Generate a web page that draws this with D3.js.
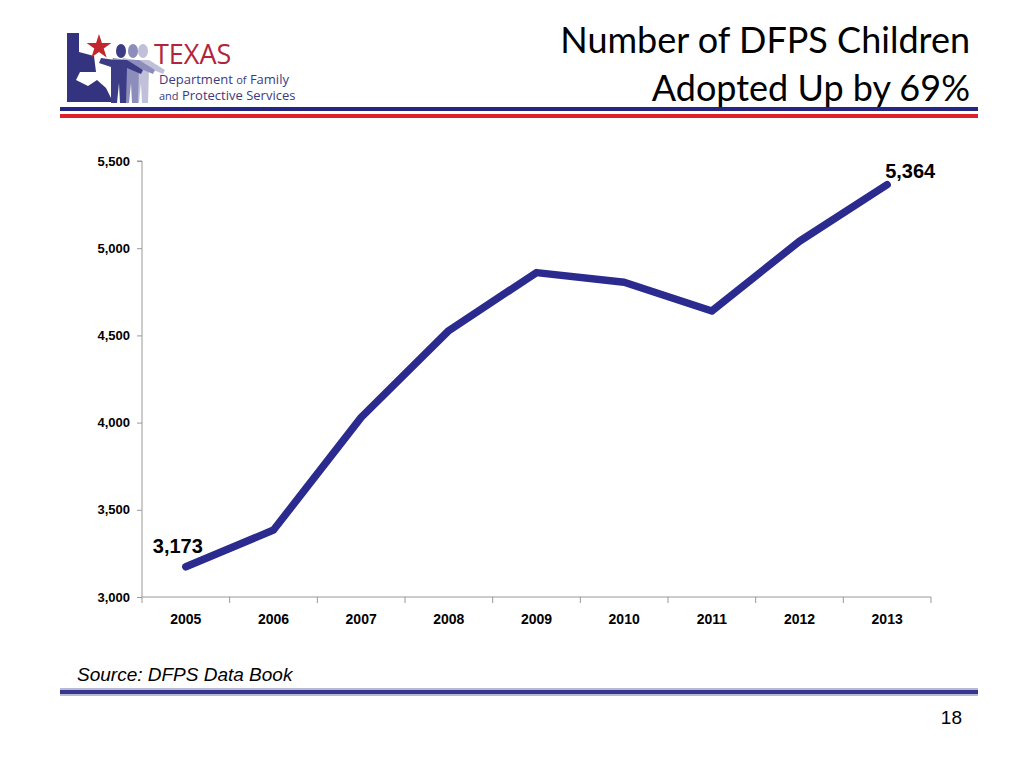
<!DOCTYPE html>
<html>
<head>
<meta charset="utf-8">
<script src="https://cdn.jsdelivr.net/npm/d3@7"></script>
<style>
  html, body { margin: 0; padding: 0; background: #fff; }
  svg { display: block; }
</style>
</head>
<body>
<svg id="chart" width="1024" height="768"></svg>
<script>
const years = ["2005", "2006", "2007", "2008", "2009", "2010", "2011", "2012", "2013"];
const adopted = [3173, 3384, 4030, 4528, 4860, 4805, 4640, 5040, 5364];
const yTicks = [3000, 3500, 4000, 4500, 5000, 5500];
const titleLines = ["Number of DFPS Children", "Adopted Up by 69%"];
const sourceText = "Source: DFPS Data Book";
const pageNumber = "18";

const svg = d3.select("#chart");

// ---- header logo ----
const logo = svg.append("g");
logo.append("path")
  .attr("d", "M67,33 L79,33 L79,52 L94,56 L96,72 L80,72 L76,80 L88,86 L97,80 L106,88 L113,102 L67,102 Z")
  .attr("fill", "#33337f");
const star = d3.symbol().type(d3.symbolStar).size(190)();
logo.append("path").attr("d", star).attr("transform", "translate(99,47)").attr("fill", "#c1272d");
const figs = [[143, "#c0c0da"], [133, "#8d8dbb"], [121, "#3b3b86"]];
figs.forEach(([x, c]) => {
  logo.append("ellipse").attr("cx", x).attr("cy", 51).attr("rx", 5).attr("ry", 7).attr("fill", c);
  logo.append("path")
    .attr("d", `M${x - 6},60 L${x + 6},60 L${x + 22},70 L${x + 20},74 L${x + 6},68 L${x + 5},103 L${x - 1},103 L${x - 2},83 L${x - 4},103 L${x - 10},103 L${x - 10},67 L${x - 22},63 L${x - 20},58 Z`)
    .attr("fill", c);
});
logo.append("text").attr("x", 154).attr("y", 64).text("TEXAS")
  .attr("font-family", "'Open Sans', sans-serif").attr("font-size", 27).attr("fill", "#b2243c");
logo.append("text").attr("x", 159).attr("y", 84)
  .attr("font-family", "'Open Sans', sans-serif").attr("font-size", 13).attr("fill", "#3b3b7f")
  .html('Department <tspan font-size="11">of</tspan> Family');
logo.append("text").attr("x", 159).attr("y", 100)
  .attr("font-family", "'Open Sans', sans-serif").attr("font-size", 13).attr("fill", "#3b3b7f")
  .html('<tspan font-size="11">and</tspan> Protective Services');

// header lines
svg.append("rect").attr("x", 60).attr("y", 107).attr("width", 918).attr("height", 4).attr("fill", "#252584");
svg.append("rect").attr("x", 60).attr("y", 114).attr("width", 918).attr("height", 4).attr("fill", "#e0202a");

// title
svg.append("g").selectAll("text").data(titleLines).join("text")
  .attr("x", 970).attr("y", (d, i) => 53 + i * 48)
  .attr("text-anchor", "end")
  .attr("font-family", "Lato, 'Open Sans', sans-serif").attr("font-size", 36).attr("fill", "#000")
  .text(d => d);

// ---- chart ----
const x0 = 142, x1 = 931, yTop = 161, yBot = 597;
const x = d3.scaleBand().domain(years).range([x0, x1]);
const y = d3.scaleLinear().domain([3000, 5500]).range([yBot, yTop]);

const yAxis = d3.axisLeft(y).tickValues(yTicks).tickFormat(d3.format(",")).tickSize(5).tickPadding(7);
const gy = svg.append("g").attr("transform", `translate(${x0},0)`).call(yAxis);
gy.select(".domain").attr("stroke", "#999").attr("d", `M-5,${yTop}H0V${yBot}`);
gy.selectAll(".tick line").attr("stroke", "#999");
gy.selectAll(".tick text").attr("font-family", "'Liberation Sans', Arial, sans-serif")
  .attr("font-weight", "bold").attr("font-size", 13).attr("fill", "#000");

const xAxis = d3.axisBottom(x).tickSize(0).tickPadding(17);
const gx = svg.append("g").attr("transform", `translate(0,${yBot})`).call(xAxis);
gx.select(".domain").attr("stroke", "#999").attr("d", `M${x0},0H${x1}`);
gx.selectAll(".tick text").attr("font-family", "'Liberation Sans', Arial, sans-serif")
  .attr("font-weight", "bold").attr("font-size", 14).attr("fill", "#000");
const bounds = years.map(d => x(d)).concat([x1]);
gx.append("g").selectAll("line").data(bounds).join("line")
  .attr("x1", d => d).attr("x2", d => d).attr("y1", 0).attr("y2", 6).attr("stroke", "#999");

// line
const line = d3.line().x((d, i) => x(years[i]) + x.bandwidth() / 2).y(d => y(d));
svg.append("path").datum(adopted).attr("d", line)
  .attr("fill", "none").attr("stroke", "#2b2b8f").attr("stroke-width", 7.5)
  .attr("stroke-linecap", "round").attr("stroke-linejoin", "round");

// data labels (first and last)
const fmt = d3.format(",");
const first = 0, last = adopted.length - 1;
svg.append("text").attr("x", x(years[first]) + x.bandwidth() / 2 - 8).attr("y", y(adopted[first]) - 14)
  .attr("text-anchor", "middle")
  .attr("font-family", "'Liberation Sans', Arial, sans-serif").attr("font-weight", "bold").attr("font-size", 20)
  .text(fmt(adopted[first]));
svg.append("text").attr("x", x(years[last]) + x.bandwidth() / 2 + 23).attr("y", y(adopted[last]) - 7)
  .attr("text-anchor", "middle")
  .attr("font-family", "'Liberation Sans', Arial, sans-serif").attr("font-weight", "bold").attr("font-size", 20)
  .text(fmt(adopted[last]));

// source
svg.append("text").attr("x", 77).attr("y", 681)
  .attr("font-family", "'Liberation Sans', Arial, sans-serif").attr("font-style", "italic").attr("font-size", 19)
  .text(sourceText);

// footer line
svg.append("rect").attr("x", 60).attr("y", 688).attr("width", 918).attr("height", 8).attr("fill", "#b8b8d8");
svg.append("rect").attr("x", 60).attr("y", 690).attr("width", 918).attr("height", 4).attr("fill", "#35358a");

// page number
svg.append("text").attr("x", 962).attr("y", 724).attr("text-anchor", "end")
  .attr("font-family", "'Liberation Sans', Arial, sans-serif").attr("font-size", 19)
  .text(pageNumber);
</script>
</body>
</html>
